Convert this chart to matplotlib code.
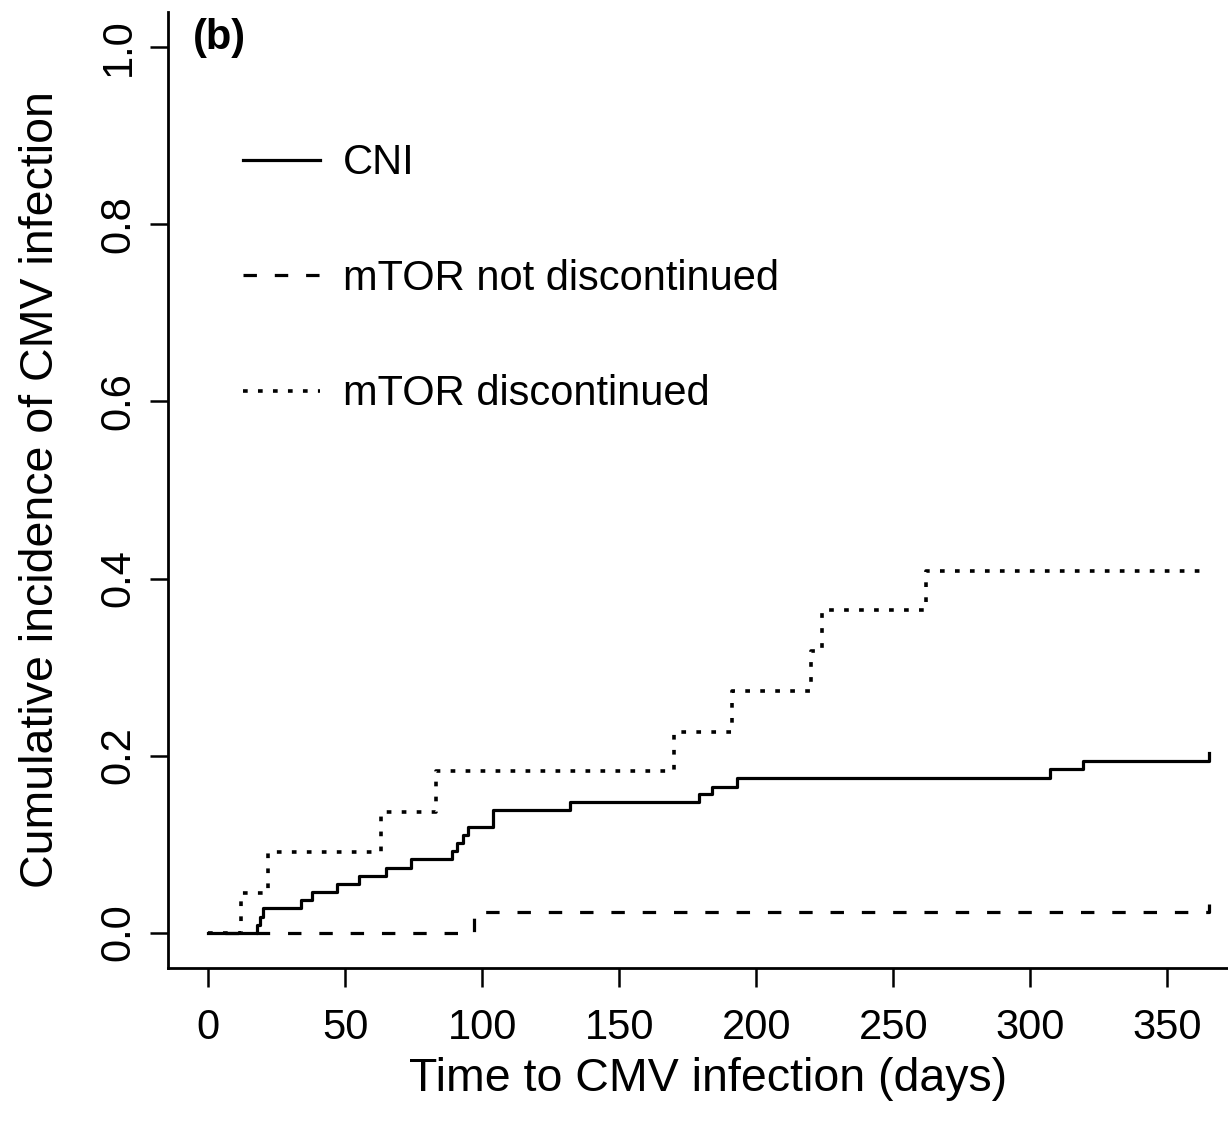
import numpy as np
import matplotlib
matplotlib.use('Agg')
import matplotlib.pyplot as plt
from matplotlib.lines import Line2D

plt.rcParams['font.family'] = ['Liberation Sans', 'DejaVu Sans']

# cumulative incidence step functions (day, value)
cni_days = [0, 18, 19, 20, 34, 38, 47, 55, 65, 74, 89, 91, 93, 95, 104, 132, 179, 184, 193, 307, 319, 365]
cni_ci = [0.0, 0.009, 0.018, 0.028, 0.037, 0.046, 0.055, 0.064, 0.073, 0.083, 0.092, 0.101, 0.110, 0.119,
          0.138, 0.147, 0.156, 0.165, 0.175, 0.185, 0.194, 0.203]

kept_days = [0, 97, 365]
kept_ci = [0.0, 0.0233, 0.032]

stopped_days = [0, 12, 22, 63, 83, 170, 191, 220, 224, 262, 365]
stopped_ci = [0.0, 0.045, 0.091, 0.136, 0.182, 0.227, 0.273, 0.318, 0.364, 0.409, 0.409]

labels = ['CNI', 'mTOR not discontinued', 'mTOR discontinued']
x_ticks = [0, 50, 100, 150, 200, 250, 300, 350]
y_ticks = [0.0, 0.2, 0.4, 0.6, 0.8, 1.0]

lw = 2.3
dash = (4.2, 5.6)
dot = (1.3, 2.85)

fig = plt.figure(figsize=(12.28, 11.25), dpi=100)
ax = fig.add_axes([0.1368, 0.1396, 0.880, 0.8497])

ax.plot(cni_days, cni_ci, drawstyle='steps-post', color='black', lw=lw)
# offset so the last small jump falls on a dash
ax.plot(kept_days, kept_ci, drawstyle='steps-post', color='black', lw=lw,
        linestyle=(4.5, dash))
ax.plot(stopped_days, stopped_ci, drawstyle='steps-post', color='black', lw=2.6,
        linestyle=(0, dot))

# R style: 4% padding round the data range, box only on left and bottom
ax.set_xlim(-0.04 * 365, 365 * 1.04)
ax.set_ylim(-0.04, 1.04)
ax.spines['top'].set_visible(False)
ax.spines['right'].set_visible(False)
for side in ['left', 'bottom']:
    ax.spines[side].set_linewidth(2.0)

ax.set_xticks(x_ticks)
ax.set_xticklabels([str(t) for t in x_ticks])
ax.set_yticks(y_ticks)
ax.set_yticklabels([f'{t:.1f}' for t in y_ticks], rotation=90, va='center')
ax.tick_params(axis='x', length=14, width=1.8, pad=15, labelsize=30)
ax.tick_params(axis='y', length=13, width=1.8, pad=8, labelsize=30)

ax.set_xlabel('Time to CMV infection (days)', fontsize=33.5, labelpad=6)
ax.set_ylabel('Cumulative incidence of CMV infection', fontsize=33.5, labelpad=26)

ax.text(0.023, 0.973, '(b)', transform=ax.transAxes, fontsize=30, fontweight='bold',
        ha='left', va='center')

# legend keys with the pattern starting at zero
handles = [Line2D([], [], color='black', lw=lw),
           Line2D([], [], color='black', lw=lw, linestyle=(0, dash)),
           Line2D([], [], color='black', lw=2.6, linestyle=(0, dot))]
ax.legend(handles, labels, loc='upper left', bbox_to_anchor=(0.0694, 0.8626), frameon=False,
          fontsize=30, handlelength=1.85, handletextpad=0.55, labelspacing=1.81,
          borderpad=0, borderaxespad=0)

plt.savefig('out.png', dpi=100)
plt.close()
